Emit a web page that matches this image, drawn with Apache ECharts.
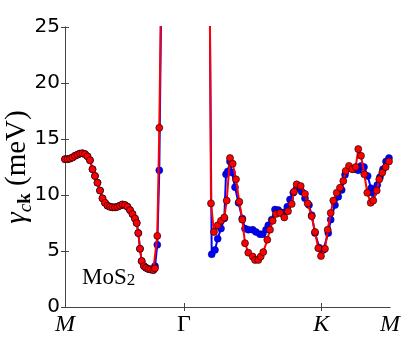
<!DOCTYPE html>
<html>
<head>
<meta charset="utf-8">
<script src="https://cdn.jsdelivr.net/npm/echarts@6/dist/echarts.min.js"></script>
<style>
  html, body { margin: 0; padding: 0; background: #fff; }
  #chart { width: 407px; height: 349px; }
</style>
</head>
<body>
<div id="chart"></div>
<script>
// high-symmetry points along the path M - Gamma - K - M (units of 2pi/a)
var kPoints = [0, 0.5774, 1.2440, 1.5774]
var kLabels = ['M', 'Γ', 'K', 'M']

// red band
var kRed = [
  0, 0.0121, 0.0243, 0.0364, 0.0485, 0.0607, 0.0728, 0.0849, 0.0971, 0.1092,
  0.1213, 0.1335, 0.1456, 0.1577, 0.1699, 0.1820, 0.1941, 0.2063, 0.2184, 0.2305,
  0.2427, 0.2548, 0.2669, 0.2791, 0.2912, 0.3033, 0.3155, 0.3276, 0.3397, 0.3480,
  0.3558, 0.3640, 0.3722, 0.3834, 0.3931, 0.4043, 0.4159, 0.4286, 0.4368, 0.4480,
  0.4577, 0.4674,
  0.6989, 0.7086, 0.7232, 0.7411, 0.7571, 0.7732, 0.7848, 0.8008, 0.8139, 0.8299,
  0.8460, 0.8605, 0.8736, 0.8896, 0.9110, 0.9222, 0.9382, 0.9498, 0.9624, 0.9819,
  0.9950, 1.0081, 1.0241, 1.0435, 1.0644, 1.0823, 1.1003, 1.1115, 1.1246, 1.1440,
  1.1648, 1.1779, 1.1974, 1.2134, 1.2294, 1.2425, 1.2619, 1.2750, 1.2896, 1.3022,
  1.3187, 1.3347, 1.3507, 1.3624, 1.3784, 1.3944, 1.4109, 1.4235, 1.4366, 1.4527,
  1.4672, 1.4837, 1.4963, 1.5128, 1.5254, 1.5400, 1.5565, 1.5725
]
var gammaRed = [
  13.2, 13.2, 13.25, 13.35, 13.5, 13.6, 13.7, 13.72, 13.65, 13.45,
  13.1, 12.3, 11.7, 11.1, 10.4, 9.7, 9.3, 9.05, 8.95, 8.9,
  8.9, 8.95, 9.05, 9.15, 9.1, 8.95, 8.65, 8.3, 7.9, 7.5,
  6.6, 5.2, 4.1, 3.65, 3.5, 3.4, 3.35, 3.3, 3.45, 6.35,
  16.0, 30,
  40, 9.25, 6.7, 7.3, 7.7, 8.0, 9.5, 13.3, 12.8, 11.4,
  9.4, 7.8, 5.7, 4.85, 4.5, 4.2, 4.2, 4.5, 4.9, 6.0,
  6.9, 7.7, 8.3, 8.4, 8.0, 8.55, 9.2, 10.3, 10.95, 10.8,
  10.1, 9.25, 8.1, 6.7, 5.25, 4.55, 5.2, 6.9, 8.4, 9.5,
  10.2, 10.65, 11.25, 12.15, 12.6, 12.3, 12.5, 14.1, 13.5, 11.85,
  10.2, 9.3, 9.5, 10.4, 11.4, 12.0, 12.5, 13.0
]

// blue band
var kBlue = [
  0, 0.0121, 0.0243, 0.0364, 0.0485, 0.0607, 0.0728, 0.0849, 0.0971, 0.1092,
  0.1213, 0.1335, 0.1456, 0.1577, 0.1699, 0.1820, 0.1941, 0.2063, 0.2184, 0.2305,
  0.2427, 0.2548, 0.2669, 0.2791, 0.2912, 0.3033, 0.3155, 0.3276, 0.3397, 0.3480,
  0.3558, 0.3640, 0.3722, 0.3834, 0.3931, 0.4043, 0.4159, 0.4286, 0.4368, 0.4480,
  0.4577, 0.4674,
  0.6989, 0.7120, 0.7280, 0.7411, 0.7571, 0.7732, 0.7814, 0.7897, 0.8008, 0.8105,
  0.8251, 0.8421, 0.8605, 0.8736, 0.8896, 0.9110, 0.9270, 0.9464, 0.9595, 0.9756,
  0.9867, 1.0032, 1.0192, 1.0353, 1.0518, 1.0629, 1.0789, 1.0920, 1.1080, 1.1246,
  1.1488, 1.1648, 1.1843, 1.1974, 1.2134, 1.2342, 1.2537, 1.2779, 1.2896, 1.3104,
  1.3265, 1.3430, 1.3590, 1.3832, 1.4027, 1.4235, 1.4366, 1.4512, 1.4691, 1.4852,
  1.4963, 1.5158, 1.5289, 1.5434, 1.5580, 1.5725
]
var gammaBlue = [
  13.2, 13.2, 13.25, 13.35, 13.5, 13.6, 13.7, 13.72, 13.65, 13.45,
  13.1, 12.3, 11.7, 11.1, 10.4, 9.7, 9.3, 9.05, 8.95, 8.9,
  8.9, 8.95, 9.05, 9.15, 9.1, 8.95, 8.65, 8.3, 7.9, 7.5,
  6.6, 5.2, 4.1, 3.65, 3.5, 3.4, 3.35, 3.3, 3.65, 5.55,
  12.2, 28,
  36, 4.7, 5.1, 6.1, 7.0, 7.9, 11.85, 12.1, 13.0, 12.0,
  10.7, 9.3, 7.9, 7.0, 6.9, 6.9, 6.7, 6.5, 6.5, 6.9,
  7.3, 7.8, 8.7, 8.65, 8.4, 8.45, 8.95, 9.6, 10.2, 10.6,
  10.3, 9.7, 9.1, 8.2, 6.6, 5.3, 5.1, 6.6, 7.8, 9.1,
  9.85, 10.45, 11.8, 12.4, 12.3, 12.2, 12.6, 12.5, 11.7, 10.6,
  10.15, 10.9, 11.6, 12.3, 13.0, 13.3
]

function pairs(xs, ys) {
  return xs.map(function(x, i) { return [x, ys[i]] })
}

var frame = { show: true, lineStyle: { color: '#444', width: 1 } }
var inTicks = { show: true, inside: true, length: 4, lineStyle: { color: '#444' } }
var serif = '"Liberation Serif", "DejaVu Serif", serif'

var chart = echarts.init(document.getElementById('chart'), null, { renderer: 'canvas' })
chart.setOption({
  animation: false,
  backgroundColor: '#fff',
  grid: { left: 65, right: 17, top: 27, bottom: 42, containLabel: false, outerBoundsMode: 'none' },
  xAxis: [{
    type: 'value',
    min: kPoints[0],
    max: kPoints[3],
    axisLine: frame,
    splitLine: { show: false },
    axisTick: Object.assign({}, inTicks, { customValues: [kPoints[1], kPoints[2]] }),
    axisLabel: {
      customValues: kPoints,
      showMinLabel: true,
      showMaxLabel: true,
      margin: 6,
      formatter: function(v) {
        var i = kPoints.findIndex(function(p) { return Math.abs(p - v) < 1e-6 })
        if (i < 0) return ''
        return i === 1 ? '{u|' + kLabels[i] + '}' : '{i|' + kLabels[i] + '}'
      },
      rich: {
        i: { fontFamily: serif, fontStyle: 'italic', fontSize: 24, color: '#000' },
        u: { fontFamily: serif, fontSize: 24, color: '#000' }
      }
    }
  }, {
    type: 'value',
    position: 'top',
    min: kPoints[0],
    max: kPoints[3],
    axisLine: frame,
    splitLine: { show: false },
    axisTick: Object.assign({}, inTicks, { customValues: [kPoints[1], kPoints[2]] }),
    axisLabel: { show: false }
  }],
  yAxis: [{
    type: 'value',
    min: 0,
    max: 25,
    interval: 5,
    axisLine: frame,
    splitLine: { show: false },
    axisTick: inTicks,
    axisLabel: { fontFamily: '"DejaVu Sans"', fontSize: 20, color: '#000', margin: 5 },
    name: '{g|γ}{s|c}{b|k}{n| (meV)}',
    nameLocation: 'middle',
    nameMoveOverlap: false,
    nameGap: 30,
    nameTextStyle: {
      rich: {
        g: { fontFamily: serif, fontStyle: 'italic', fontSize: 29, color: '#000', lineHeight: 36 },
        s: { fontFamily: serif, fontStyle: 'italic', fontSize: 19, color: '#000', lineHeight: 16, verticalAlign: 'bottom' },
        b: { fontFamily: serif, fontWeight: 'bold', fontSize: 19, color: '#000', lineHeight: 16, verticalAlign: 'bottom' },
        n: { fontFamily: serif, fontSize: 29, color: '#000', lineHeight: 36 }
      }
    }
  }, {
    type: 'value',
    position: 'right',
    min: 0,
    max: 25,
    interval: 5,
    axisLine: frame,
    splitLine: { show: false },
    axisTick: inTicks,
    axisLabel: { show: false }
  }],
  graphic: [{
    type: 'text',
    left: 82,
    top: 266,
    style: {
      text: 'MoS{s|2}',
      font: '23px "Liberation Serif"',
      fill: '#000',
      rich: {
        s: { fontFamily: 'Liberation Serif', fontSize: 17, fill: '#000', verticalAlign: 'bottom', lineHeight: 14 }
      }
    }
  }],
  series: [{
    type: 'line',
    name: 'blue',
    data: pairs(kBlue, gammaBlue),
    clip: true,
    symbol: 'circle',
    symbolSize: 7,
    itemStyle: { color: '#0000ff', borderColor: '#000060', borderWidth: 0.5 },
    lineStyle: { color: '#0000ff', width: 2 },
    z: 2
  }, {
    type: 'line',
    name: 'red',
    data: pairs(kRed, gammaRed),
    clip: true,
    symbol: 'circle',
    symbolSize: 7,
    itemStyle: { color: '#ff0000', borderColor: '#000', borderWidth: 0.6 },
    lineStyle: { color: '#ff0000', width: 2 },
    z: 3
  }]
})
</script>
</body>
</html>
